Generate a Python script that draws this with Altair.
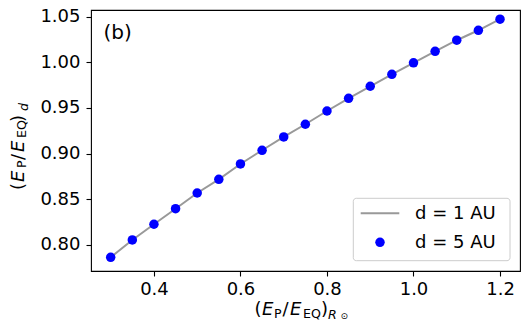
import altair as alt
import pandas as pd

# ---- data ----
x_values = [0.30, 0.35, 0.40, 0.45, 0.50, 0.55, 0.60, 0.65, 0.70, 0.75,
            0.80, 0.85, 0.90, 0.95, 1.00, 1.05, 1.10, 1.15, 1.20]
y_d1 = [0.7865, 0.8055, 0.8227, 0.8397, 0.8569, 0.8719, 0.8887, 0.9037, 0.9183, 0.9322,
        0.9467, 0.9606, 0.9738, 0.9869, 0.9995, 1.0121, 1.0242, 1.0351, 1.0472]
y_d5 = [0.7865, 0.8055, 0.8227, 0.8397, 0.8569, 0.8719, 0.8887, 0.9037, 0.9183, 0.9322,
        0.9467, 0.9606, 0.9738, 0.9869, 0.9995, 1.0121, 1.0242, 1.0351, 1.0472]
x_ticks = [0.4, 0.6, 0.8, 1.0, 1.2]
y_ticks = [0.80, 0.85, 0.90, 0.95, 1.00, 1.05]
series_labels = ["d = 1 AU", "d = 5 AU"]
panel_label = "(b)"

FONT = "DejaVu Sans"
LINE_COLOR = "#999999"
POINT_COLOR = "#0000ff"

df = pd.DataFrame({"x": x_values, "y1": y_d1, "y5": y_d5})
one = pd.DataFrame({"k": [0]})

xscale = alt.Scale(domain=[0.2545, 1.2462], nice=False, zero=False)
yscale = alt.Scale(domain=[0.7715, 1.0573], nice=False, zero=False)

xaxis = alt.Axis(values=x_ticks, format=".1f", title=None, labelFlush=False,
                 labelOverlap=False, labelPadding=4)
yaxis = alt.Axis(values=y_ticks, format=".2f", title=None, labelFlush=False,
                 labelOverlap=False, labelPadding=6)

line = alt.Chart(df).mark_line(color=LINE_COLOR, strokeWidth=2).encode(
    x=alt.X("x:Q", scale=xscale, axis=xaxis),
    y=alt.Y("y1:Q", scale=yscale, axis=yaxis),
)
points = alt.Chart(df).mark_circle(color=POINT_COLOR, opacity=1, size=90).encode(
    x=alt.X("x:Q", scale=xscale),
    y=alt.Y("y5:Q", scale=yscale),
)


def txt(t, x, y, size, italic=False, angle=0):
    kw = dict(text=t, font=FONT, fontSize=size, align="left",
              baseline="alphabetic", color="black")
    if italic:
        kw["fontStyle"] = "italic"
    if angle:
        kw["angle"] = angle
    return alt.Chart(one).mark_text(**kw).encode(x=alt.value(x), y=alt.value(y))


SUB = 12.6
pieces = []
# x-axis title: (E_P/E_EQ)_{R_sun}
xb = 305
pieces += [
    txt("(", 163.5, xb, 18),
    txt("E", 171, xb, 18, True),
    txt("P", 183, xb + 3, SUB),
    txt("/", 191.5, xb, 18),
    txt("E", 199, xb, 18, True),
    txt("EQ", 212, xb + 3, SUB),
    txt(")", 230, xb, 18),
    txt("R", 237, xb + 4, SUB, True),
    txt("\u2299", 249.5, xb + 4, 9),
]
# y-axis title: (E_P/E_EQ)_d, rotated
yb = -67.5
pieces += [
    txt("(", yb, 180, 18, angle=270),
    txt("E", yb, 172, 18, True, angle=270),
    txt("P", yb + 2.5, 158, SUB, angle=270),
    txt("/", yb, 150, 18, angle=270),
    txt("E", yb, 142, 18, True, angle=270),
    txt("EQ", yb + 2.5, 128, SUB, angle=270),
    txt(")", yb, 112, 18, angle=270),
    txt("d", yb + 4.5, 101, SUB, True, angle=270),
]
# panel label
pieces.append(txt(panel_label, 12.5, 28.5, 20))

# legend
legend_box = alt.Chart(one).mark_rect(
    fill="white", fillOpacity=0.8, stroke="#cccccc", strokeWidth=1, cornerRadius=3
).encode(x=alt.value(262.3), x2=alt.value(419), y=alt.value(188.3), y2=alt.value(250.7))
legend_line = alt.Chart(one).mark_rule(color=LINE_COLOR, strokeWidth=2).encode(
    x=alt.value(269.7), x2=alt.value(308.3), y=alt.value(203.3))
legend_point = alt.Chart(one).mark_circle(color=POINT_COLOR, opacity=1, size=90).encode(
    x=alt.value(289), y=alt.value(232.3))
legend_text = [
    txt(series_labels[0], 324, 209.3, 18),
    txt(series_labels[1], 324, 238.3, 18),
]

chart = alt.layer(
    line, points, legend_box, legend_line, legend_point, *legend_text, *pieces
).properties(
    width=429,
    height=261,
    autosize=alt.AutoSizeParams(type="none"),
    padding={"left": 83, "top": 2, "right": 1, "bottom": 51},
    background="white",
).configure_view(
    stroke="black", strokeWidth=1.1
).configure_axis(
    domain=False, grid=False, labelFont=FONT, labelFontSize=18, labelColor="black",
    tickColor="black", tickSize=5, tickWidth=1.1,
)

chart.save("out.html", embed_options={"renderer": "svg", "actions": False})
